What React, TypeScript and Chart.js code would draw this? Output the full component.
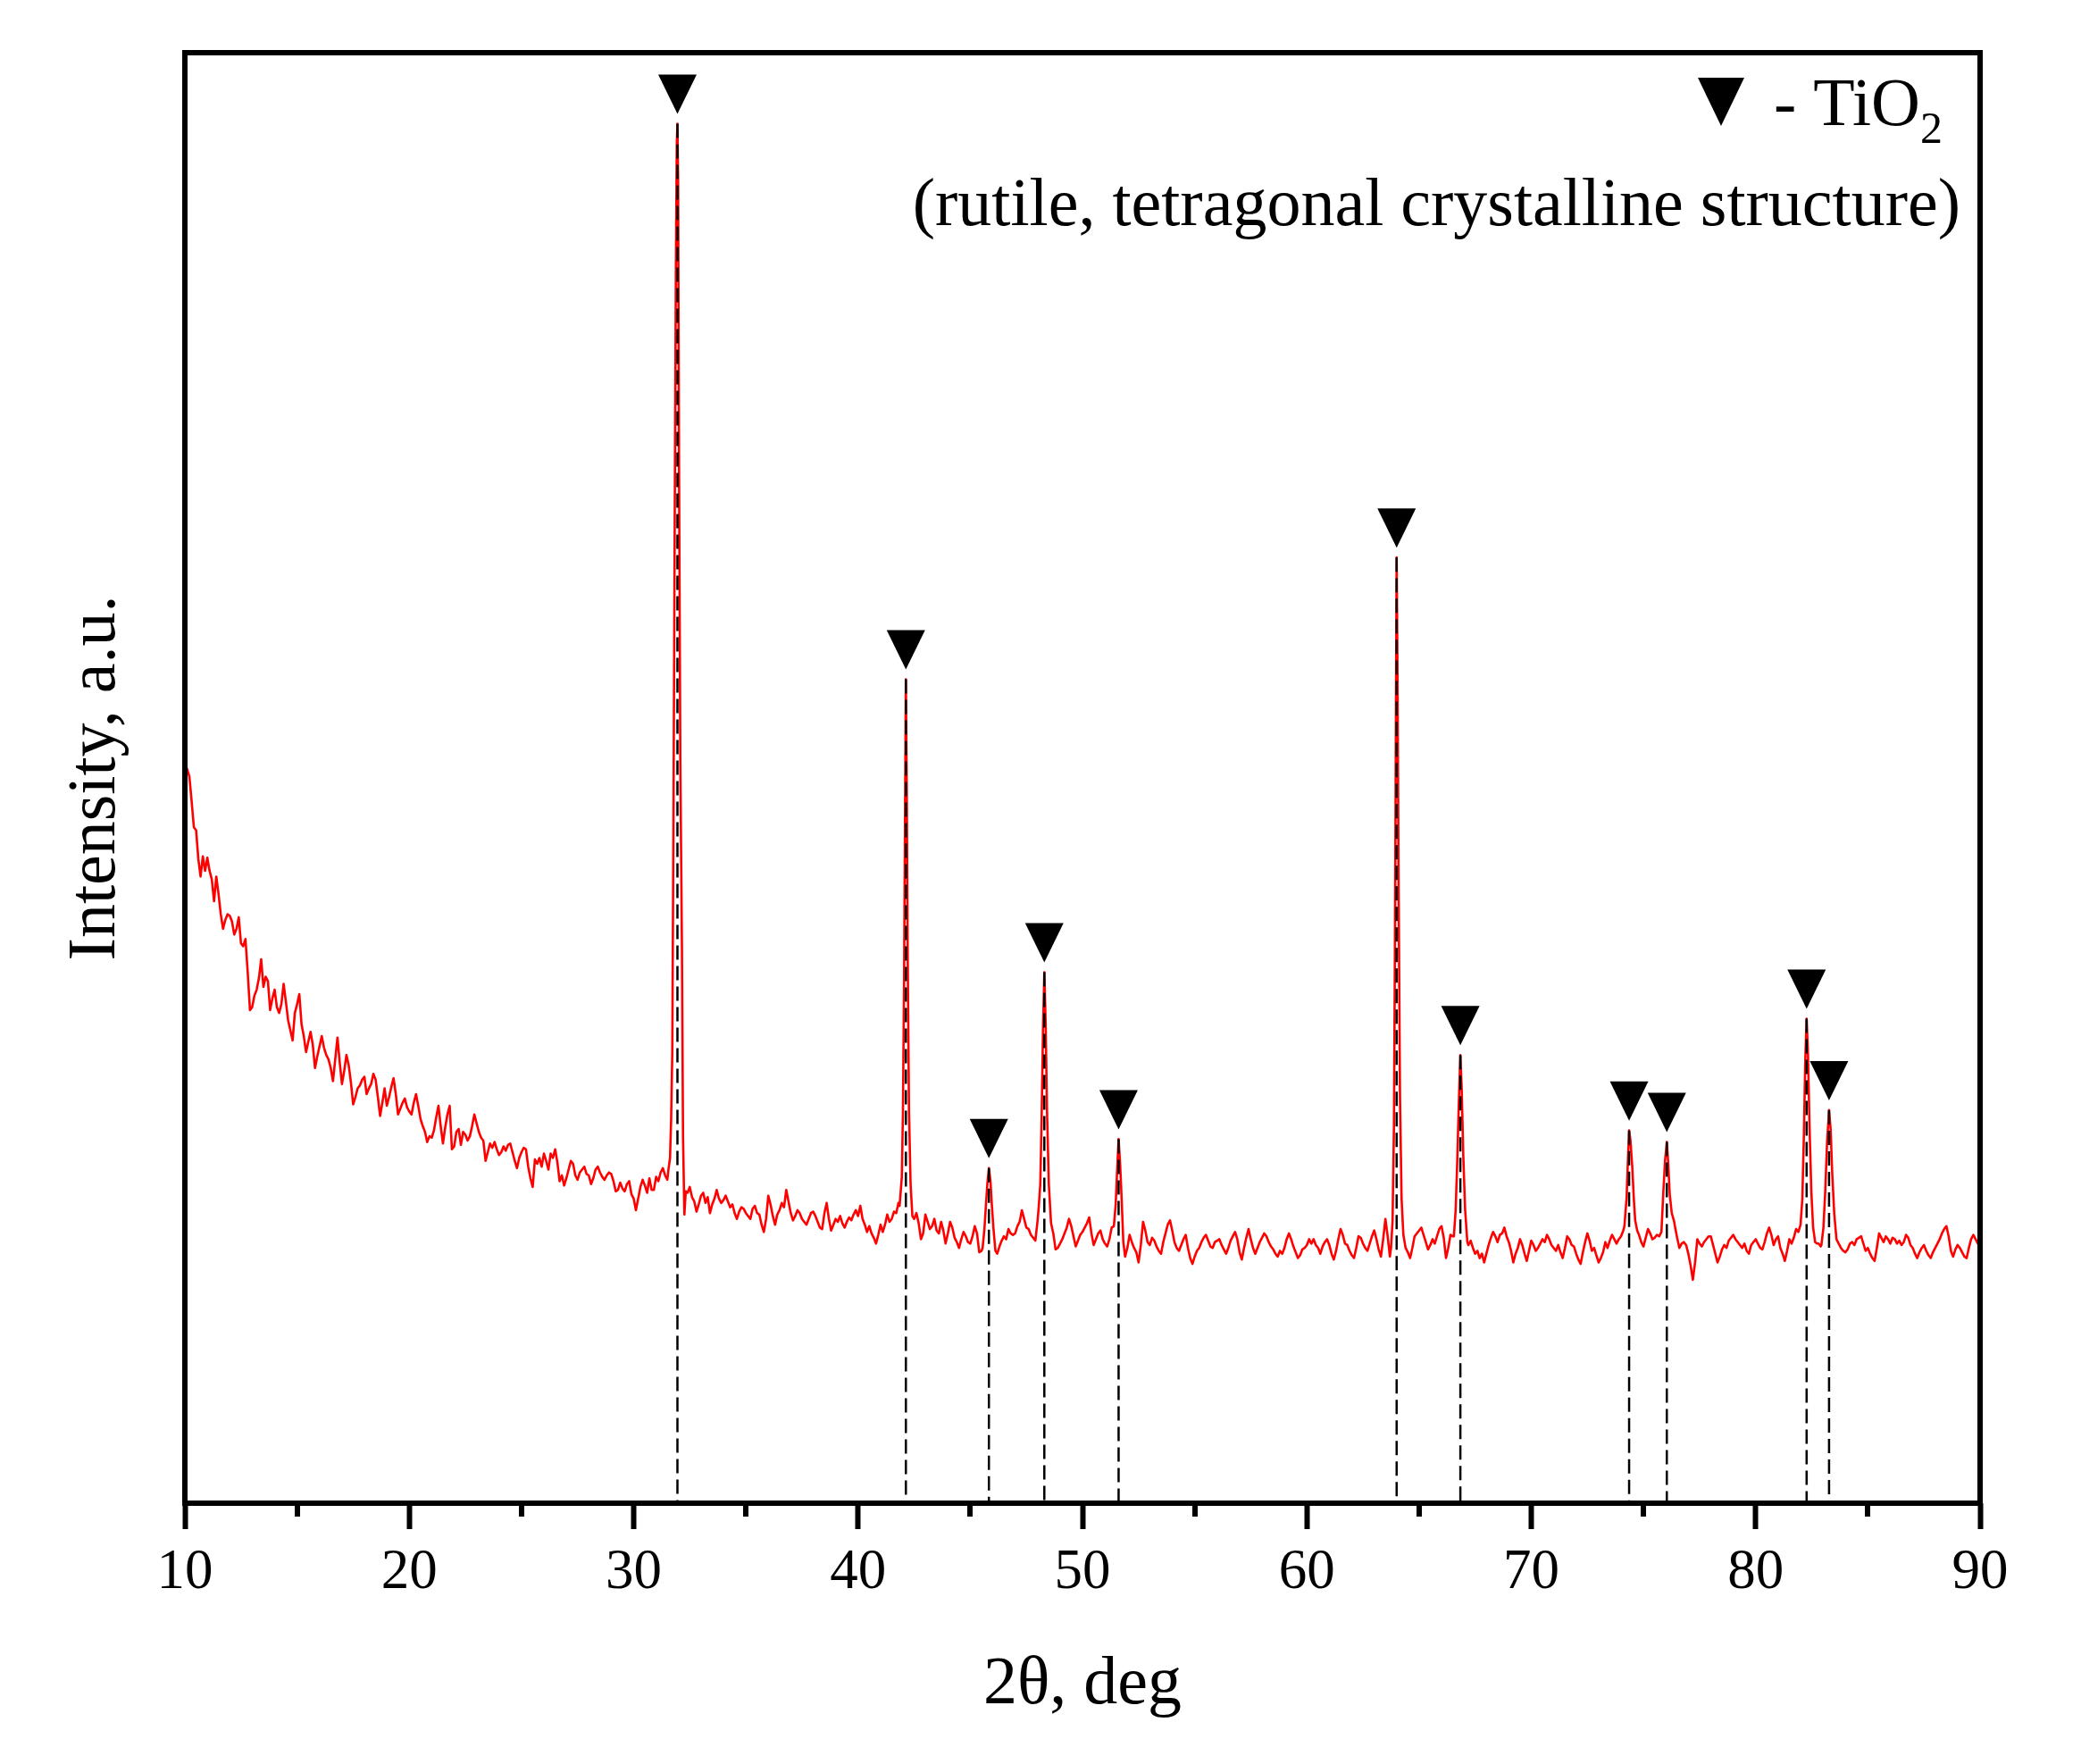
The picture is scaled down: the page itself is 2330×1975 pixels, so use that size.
import React, { useEffect, useRef } from 'react';
import { Chart, registerables } from 'chart.js';

Chart.register(...registerables);

// ---------------- DATA ----------------
// Background of the XRD pattern, one row per degree (x.0 ... x.9), 2θ from 10 to 90
const BG_START = 10;
const BG_STEP = 0.1;
const backgroundRows: number[][] = [
  [51.0, 50.6, 50.1, 48.4, 46.6, 46.4, 44.4, 43.2, 44.6, 43.6], // 10
  [44.5, 43.6, 43.0, 41.5, 43.2, 42.0, 40.6, 39.6, 40.2, 40.6], // 11
  [40.5, 40.1, 39.2, 39.6, 40.4, 38.6, 38.4, 38.9, 36.6, 34.0], // 12
  [34.2, 35.0, 35.4, 36.2, 37.5, 35.6, 36.3, 36.0, 34.0, 34.8], // 13
  [35.4, 34.2, 33.8, 34.4, 35.8, 34.6, 33.3, 32.6, 31.9, 33.8], // 14
  [34.4, 35.1, 33.0, 32.2, 31.1, 31.8, 32.5, 31.6, 30.0, 30.8], // 15
  [31.5, 32.2, 31.4, 30.9, 30.6, 30.0, 29.1, 30.6, 32.1, 30.4], // 16
  [28.9, 29.8, 30.9, 30.2, 29.0, 27.5, 28.0, 28.6, 28.8, 29.2], // 17
  [29.4, 28.2, 28.6, 28.9, 29.6, 29.2, 28.0, 26.7, 27.6, 28.6], // 18
  [27.4, 28.0, 28.7, 29.3, 28.2, 26.8, 27.2, 27.6, 27.9, 27.3], // 19
  [27.0, 26.8, 27.6, 28.2, 27.4, 26.5, 26.0, 25.6, 24.9, 25.3], // 20
  [25.2, 25.7, 26.6, 27.4, 26.0, 24.8, 25.9, 26.8, 27.4, 24.4], // 21
  [24.6, 25.6, 25.8, 24.7, 25.6, 25.4, 25.0, 25.3, 26.0, 26.8], // 22
  [26.2, 25.6, 25.2, 25.0, 23.6, 24.2, 24.8, 24.5, 24.9, 24.4], // 23
  [24.0, 24.2, 24.6, 24.3, 24.7, 24.8, 24.2, 23.6, 23.1, 23.8], // 24
  [24.2, 24.5, 24.4, 23.2, 22.4, 21.8, 23.7, 23.4, 23.8, 23.2], // 25
  [24.1, 23.6, 23.0, 24.1, 23.8, 24.4, 23.5, 22.2, 22.6, 21.9], // 26
  [22.4, 23.0, 23.6, 23.4, 22.6, 22.3, 22.8, 23.0, 23.2, 22.7], // 27
  [22.6, 22.0, 22.4, 23.0, 23.2, 22.8, 22.5, 22.3, 22.6, 22.8], // 28
  [22.7, 22.2, 21.5, 21.6, 22.1, 21.7, 21.5, 22.0, 22.2, 21.3], // 29
  [21.0, 20.2, 21.0, 21.8, 22.3, 21.9, 21.4, 22.4, 21.6, 21.6], // 30
  [22.5, 22.2, 22.8, 23.1, 22.6, 22.3, 23.0, 23.2, 23.0, 23.0], // 31
  [21.0, 21.0, 21.0, 21.0, 21.4, 21.8, 21.1, 20.8, 20.1, 20.6], // 32
  [21.2, 21.4, 20.7, 21.1, 20.0, 20.6, 21.0, 21.6, 21.0, 20.7], // 33
  [20.9, 21.2, 20.8, 20.4, 20.6, 20.0, 19.6, 20.1, 20.4, 20.3], // 34
  [20.0, 19.8, 19.6, 20.3, 20.5, 20.0, 19.9, 19.2, 18.7, 19.6], // 35
  [21.2, 20.6, 19.8, 19.2, 19.9, 20.2, 20.7, 20.4, 21.6, 20.8], // 36
  [20.0, 19.5, 19.8, 20.2, 20.0, 19.6, 19.4, 19.2, 19.6, 20.0], // 37
  [20.1, 19.8, 19.4, 19.0, 18.9, 20.0, 20.7, 19.6, 18.8, 19.2], // 38
  [19.6, 19.4, 19.8, 19.3, 19.0, 19.4, 19.7, 19.5, 19.9, 20.2], // 39
  [19.8, 20.5, 19.6, 19.2, 18.7, 19.1, 18.6, 18.3, 17.9, 18.5], // 40
  [19.2, 18.7, 19.2, 19.9, 19.4, 19.6, 20.1, 20.0, 20.7, 20.5], // 41
  [21.0, 21.0, 21.0, 21.0, 21.0, 19.6, 20.0, 19.3, 18.2, 18.6], // 42
  [19.9, 19.4, 18.9, 19.1, 19.6, 18.8, 18.6, 19.4, 18.8, 17.9], // 43
  [18.6, 19.4, 19.0, 18.3, 18.0, 17.6, 18.2, 18.7, 18.4, 18.0], // 44
  [17.9, 18.4, 19.1, 18.6, 17.3, 17.4, 19.0, 20.0, 22.0, 22.0], // 45
  [19.0, 18.0, 17.2, 17.7, 18.1, 18.4, 18.2, 18.9, 18.6, 18.5], // 46
  [18.6, 19.1, 19.4, 20.2, 19.6, 19.0, 18.9, 18.5, 18.3, 18.1], // 47
  [19.5, 20.0, 22.0, 27.0, 33.0, 33.0, 22.0, 18.6, 17.5, 17.6], // 48
  [17.9, 18.2, 18.6, 19.0, 19.6, 19.1, 18.4, 17.7, 18.1, 18.5], // 49
  [18.7, 19.0, 19.3, 19.7, 18.6, 17.8, 18.2, 18.6, 18.8, 18.2], // 50
  [17.9, 17.7, 18.2, 19.0, 19.1, 20.0, 22.0, 22.0, 19.0, 17.0], // 51
  [17.6, 18.5, 18.0, 17.6, 17.3, 16.6, 17.8, 19.4, 18.8, 18.0], // 52
  [17.8, 18.3, 18.1, 17.7, 17.4, 17.2, 18.0, 18.6, 19.2, 19.5], // 53
  [18.8, 18.0, 17.6, 17.4, 17.8, 18.2, 18.5, 17.6, 16.9, 16.5], // 54
  [17.0, 17.4, 17.6, 18.0, 18.3, 18.5, 18.1, 17.7, 17.6, 18.0], // 55
  [18.1, 18.2, 17.8, 17.5, 17.2, 17.6, 18.1, 18.4, 18.7, 18.2], // 56
  [17.3, 16.8, 17.6, 18.3, 18.9, 18.2, 17.6, 17.2, 17.6, 18.0], // 57
  [18.3, 18.6, 18.4, 18.0, 17.7, 17.5, 17.2, 17.0, 17.4, 17.2], // 58
  [17.6, 18.2, 18.6, 18.2, 17.7, 17.3, 16.9, 17.1, 17.5, 17.6], // 59
  [17.8, 18.2, 17.9, 18.2, 17.8, 17.6, 17.2, 17.7, 18.0, 18.2], // 60
  [17.8, 17.2, 16.8, 17.4, 18.2, 18.9, 18.5, 17.9, 17.8, 17.4], // 61
  [17.1, 16.9, 17.6, 18.4, 18.3, 17.9, 17.6, 17.4, 17.9, 18.4], // 62
  [18.8, 18.2, 17.5, 17.0, 18.2, 19.6, 18.4, 17.0, 20.0, 30.0], // 63
  [60.0, 40.0, 25.0, 19.0, 17.6, 17.3, 16.9, 17.6, 18.4, 18.6], // 64
  [18.8, 19.0, 18.5, 18.0, 17.5, 17.8, 18.2, 17.9, 18.4, 18.9], // 65
  [19.1, 18.3, 16.9, 17.6, 18.5, 18.4, 20.0, 25.0, 30.0, 26.0], // 66
  [22.0, 19.0, 17.8, 18.1, 17.6, 17.2, 17.4, 16.9, 17.2, 16.6], // 67
  [17.2, 17.8, 18.3, 18.7, 18.4, 18.0, 18.5, 18.6, 19.0, 18.4], // 68
  [18.0, 17.4, 16.6, 17.2, 17.6, 18.2, 17.8, 17.2, 16.7, 17.4], // 69
  [18.1, 17.8, 17.4, 17.6, 17.9, 18.2, 18.0, 18.5, 18.2, 17.8], // 70
  [17.6, 17.4, 17.8, 17.3, 16.9, 17.6, 18.4, 18.2, 17.8, 17.7], // 71
  [17.2, 16.8, 16.5, 17.3, 18.0, 18.6, 18.1, 17.4, 17.6, 17.1], // 72
  [16.6, 16.9, 17.3, 18.0, 17.6, 18.1, 18.5, 18.2, 17.9, 18.2], // 73
  [18.4, 18.8, 20.0, 24.0, 25.0, 23.0, 20.0, 19.0, 18.5, 18.0], // 74
  [17.7, 18.3, 18.9, 18.6, 18.2, 18.3, 18.5, 18.4, 20.0, 23.0], // 75
  [24.0, 23.0, 21.0, 19.5, 19.1, 18.3, 17.6, 17.9, 18.0, 17.8], // 76
  [17.2, 16.4, 15.4, 16.6, 18.2, 17.9, 17.7, 18.0, 18.2, 18.4], // 77
  [18.4, 17.8, 17.2, 16.6, 17.0, 17.5, 17.8, 17.6, 18.1, 18.3], // 78
  [18.5, 18.2, 18.0, 17.8, 17.6, 17.9, 17.4, 17.2, 17.8, 18.0], // 79
  [18.2, 17.9, 17.6, 17.5, 18.0, 18.6, 19.0, 18.5, 17.8, 18.2], // 80
  [18.4, 17.6, 17.2, 16.7, 17.4, 18.2, 17.9, 18.3, 18.9, 18.7], // 81
  [19.0, 25.0, 30.0, 30.0, 25.0, 20.0, 18.0, 18.0, 17.9, 17.7], // 82
  [19.0, 22.0, 26.0, 26.0, 22.0, 19.0, 18.0, 17.9, 17.6, 17.4], // 83
  [17.3, 17.5, 17.9, 18.0, 17.8, 18.2, 18.3, 18.4, 17.9, 17.4], // 84
  [17.6, 17.2, 16.9, 16.7, 17.6, 18.6, 18.3, 18.0, 18.4, 18.2], // 85
  [17.9, 18.3, 18.2, 17.9, 18.1, 17.8, 18.0, 18.5, 18.3, 17.8], // 86
  [17.6, 17.2, 16.9, 17.3, 17.6, 17.8, 17.4, 17.1, 16.9, 17.3], // 87
  [17.6, 17.9, 18.2, 18.6, 18.9, 19.1, 18.4, 17.4, 17.0, 17.5], // 88
  [17.8, 17.6, 17.3, 17.0, 16.9, 17.6, 18.2, 18.5, 18.2, 17.9], // 89
  [17.8], // 90
];

// Peak profiles [2θ, intensity] (replace the background inside their range)
const peak31_95: [number, number][] = [
  [31.55, 23.0], [31.62, 23.8], [31.67, 26.5], [31.72, 31.0], [31.77, 46.0], [31.83, 68.0],
  [31.88, 85.0], [31.92, 93.5], [31.95, 95.1], [31.98, 91.0], [32.02, 72.0], [32.08, 50.9],
  [32.15, 38.4], [32.2, 25.2], [32.26, 19.9], [32.32, 21.5],
];
const peak42_13: [number, number][] = [
  [41.85, 20.5], [41.95, 22.5], [42.0, 27.0], [42.05, 36.0], [42.09, 47.0], [42.13, 56.8],
  [42.17, 49.0], [42.21, 38.0], [42.27, 27.0], [42.34, 22.0], [42.42, 19.8],
];
const peak45_83: [number, number][] = [
  [45.55, 17.6], [45.63, 18.9], [45.7, 20.6], [45.76, 22.0], [45.83, 23.1], [45.9, 22.2],
  [45.96, 20.6], [46.03, 19.0], [46.12, 17.4],
];
const peak48_30: [number, number][] = [
  [48.05, 20.4], [48.12, 22.0], [48.18, 26.5], [48.24, 32.5], [48.3, 36.6], [48.36, 33.0],
  [48.42, 27.0], [48.5, 22.0], [48.6, 19.3],
];
const peak51_61: [number, number][] = [
  [51.4, 19.1], [51.48, 20.6], [51.54, 22.8], [51.61, 25.1], [51.68, 23.3], [51.74, 21.2],
  [51.82, 18.0], [51.9, 17.0],
];
const peak64_00: [number, number][] = [
  [63.75, 17.6], [63.82, 19.5], [63.88, 26.0], [63.93, 40.0], [63.97, 55.0], [64.0, 65.2],
  [64.04, 57.0], [64.09, 42.0], [64.15, 28.0], [64.22, 21.0], [64.3, 18.5], [64.4, 17.6],
];
const peak66_84: [number, number][] = [
  [66.55, 18.4], [66.63, 20.2], [66.7, 23.5], [66.77, 27.5], [66.84, 30.9], [66.9, 28.5],
  [66.97, 24.0], [67.05, 20.3], [67.15, 18.0],
];
const peak74_36: [number, number][] = [
  [74.15, 19.1], [74.25, 21.1], [74.31, 23.8], [74.36, 25.7], [74.42, 25.0], [74.5, 23.2],
  [74.57, 21.0], [74.63, 19.5], [74.72, 18.8],
];
const peak76_04: [number, number][] = [
  [75.8, 18.7], [75.88, 21.3], [75.96, 23.6], [76.04, 24.9], [76.1, 23.5], [76.17, 21.3],
  [76.26, 20.0], [76.37, 19.4],
];
const peak82_27: [number, number][] = [
  [82.0, 19.2], [82.08, 21.0], [82.15, 25.5], [82.21, 30.5], [82.27, 33.4], [82.33, 31.0],
  [82.4, 26.0], [82.48, 21.5], [82.56, 19.0], [82.65, 18.0], [82.73, 17.9],
];
const peak83_27: [number, number][] = [
  [82.93, 17.8], [83.02, 19.0], [83.1, 21.5], [83.18, 24.8], [83.27, 27.1], [83.34, 25.8],
  [83.41, 22.8], [83.5, 20.0], [83.6, 18.2],
];
const peaks = [
  peak31_95, peak42_13, peak45_83, peak48_30, peak51_61, peak64_00,
  peak66_84, peak74_36, peak76_04, peak82_27, peak83_27,
];

const X_MIN = 10;
const X_MAX = 90;
const Y_MIN = 0;
const Y_MAX = 100;
const majorTickStep = 10;
const minorTicks = [15, 25, 35, 45, 55, 65, 75, 85];

const xTitle = '2θ, deg';
const yTitle = 'Intensity, a.u.';
const legendMain = '- TiO';
const legendSub = '2';
const legendNote = '(rutile, tetragonal crystalline structure)';

// ---------------- BUILD ----------------
type Pt = { x: number; y: number };

function buildSeries(): Pt[] {
  const bg: Pt[] = [];
  backgroundRows.forEach((row, r) => {
    row.forEach((v, k) => {
      bg.push({ x: Math.round((BG_START + r + k * BG_STEP) * 1000) / 1000, y: v });
    });
  });
  const windows = peaks.map((p) => [p[0][0], p[p.length - 1][0]]);
  const kept = bg.filter((pt) => !windows.some(([a, b]) => pt.x >= a - 1e-6 && pt.x <= b + 1e-6));
  const pk: Pt[] = [];
  peaks.forEach((p) => p.forEach(([x, y]) => pk.push({ x, y })));
  return kept.concat(pk).sort((a, b) => a.x - b.x);
}

function apexOf(p: [number, number][]): Pt {
  let best = p[0];
  p.forEach((q) => {
    if (q[1] > best[1]) best = q;
  });
  return { x: best[0], y: best[1] };
}

const FONT = '"Liberation Serif", "Times New Roman", Times, serif';

export default function App() {
  const ref = useRef<HTMLCanvasElement | null>(null);

  useEffect(() => {
    document.body.style.margin = '0';
    const canvas = ref.current;
    if (!canvas) return;

    const series = buildSeries();
    const apexes = peaks.map(apexOf);

    const dashSets = apexes.map((a) => ({
      label: 'ref' + a.x,
      data: [
        { x: a.x, y: a.y },
        { x: a.x, y: Y_MIN },
      ],
      borderColor: '#000000',
      borderWidth: 2.5,
      borderDash: [16, 7],
      pointRadius: 0,
      fill: false,
      order: 0,
    }));

    const decor = {
      id: 'decor',
      afterDatasetsDraw(chart: any) {
        const { ctx, scales } = chart;
        const xs = scales.x;
        const ys = scales.y;
        ctx.save();
        // peak markers
        ctx.fillStyle = '#000000';
        apexes.forEach((a) => {
          const px = xs.getPixelForValue(a.x);
          const py = ys.getPixelForValue(a.y);
          ctx.beginPath();
          ctx.moveTo(px, py - 11);
          ctx.lineTo(px - 21.5, py - 55);
          ctx.lineTo(px + 21.5, py - 55);
          ctx.closePath();
          ctx.fill();
        });
        ctx.restore();
      },
      afterDraw(chart: any) {
        const { ctx, chartArea, scales } = chart;
        const xs = scales.x;
        const { left, right, top, bottom } = chartArea;
        ctx.save();
        // minor ticks
        ctx.strokeStyle = '#000000';
        ctx.lineWidth = 6;
        minorTicks.forEach((v) => {
          const px = Math.round(xs.getPixelForValue(v));
          ctx.beginPath();
          ctx.moveTo(px, bottom);
          ctx.lineTo(px, bottom + 15);
          ctx.stroke();
        });
        // frame
        ctx.lineJoin = 'miter';
        ctx.strokeRect(left, top, right - left, bottom - top);

        ctx.fillStyle = '#000000';
        // x title
        ctx.font = `76px ${FONT}`;
        ctx.textAlign = 'center';
        ctx.textBaseline = 'alphabetic';
        ctx.fillText(xTitle, (left + right) / 2, bottom + 224);
        // y title
        ctx.save();
        ctx.translate(left - 79, (top + bottom) / 2);
        ctx.rotate(-Math.PI / 2);
        ctx.fillText(yTitle, 0, 0);
        ctx.restore();

        // legend
        ctx.textAlign = 'right';
        ctx.font = `50px ${FONT}`;
        const subRight = right - 42;
        const wSub = ctx.measureText(legendSub).width;
        ctx.fillText(legendSub, subRight, top + 101);
        ctx.font = `76px ${FONT}`;
        ctx.fillText(legendMain, subRight - wSub, top + 81);
        ctx.fillText(legendNote, right - 22, top + 193);
        // legend triangle
        const cx = right - 290;
        ctx.beginPath();
        ctx.moveTo(cx, top + 82);
        ctx.lineTo(cx - 26, top + 28);
        ctx.lineTo(cx + 26, top + 28);
        ctx.closePath();
        ctx.fill();
        ctx.restore();
      },
    };

    const chart = new Chart(canvas, {
      type: 'line',
      data: {
        datasets: [
          ...dashSets,
          {
            label: 'XRD',
            data: series,
            borderColor: 'rgb(255,0,0)',
            borderWidth: 2.6,
            pointRadius: 0,
            fill: false,
            tension: 0,
            order: 1,
          },
        ] as any,
      },
      options: {
        animation: false,
        responsive: false,
        devicePixelRatio: 1,
        parsing: true,
        layout: { padding: { left: 207, right: 113, top: 59, bottom: 0 } },
        plugins: {
          legend: { display: false },
          tooltip: { enabled: false },
          title: { display: false },
        },
        elements: { line: { borderJoinStyle: 'round' } },
        scales: {
          x: {
            type: 'linear',
            position: 'bottom',
            min: X_MIN,
            max: X_MAX,
            afterFit: (scale: any) => {
              scale.height = 292;
            },
            ticks: {
              stepSize: majorTickStep,
              autoSkip: false,
              maxRotation: 0,
              padding: 12,
              color: '#000000',
              font: { family: FONT, size: 63 },
              callback: (v: any) => String(v),
            },
            grid: {
              display: true,
              drawOnChartArea: false,
              drawTicks: true,
              tickLength: 29,
              tickWidth: 6,
              tickColor: '#000000',
            },
            border: { display: false },
          },
          y: {
            type: 'linear',
            display: false,
            min: Y_MIN,
            max: Y_MAX,
          },
        },
      } as any,
      plugins: [decor],
    });

    return () => chart.destroy();
  }, []);

  return (
    <div style={{ width: 2330, height: 1975, background: '#ffffff' }}>
      <canvas ref={ref} width={2330} height={1975} style={{ display: 'block', width: 2330, height: 1975 }} />
    </div>
  );
}
